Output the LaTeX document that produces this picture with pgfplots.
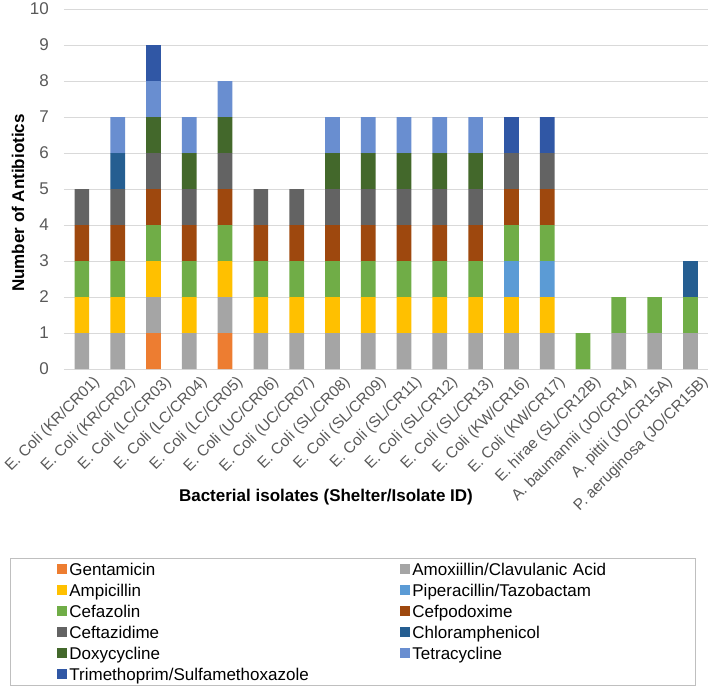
\documentclass[border=0pt]{standalone}
\usepackage{pgfplots}
\pgfplotsset{compat=1.18}
\usepackage{pgfplotstable}
\usepackage{fontspec}
\setmainfont{Liberation Sans}
\definecolor{cGent}{HTML}{ED7D31}
\definecolor{cAmox}{HTML}{A5A5A5}
\definecolor{cAmp}{HTML}{FFC000}
\definecolor{cPip}{HTML}{5B9BD5}
\definecolor{cCefaz}{HTML}{70AD47}
\definecolor{cCefpod}{HTML}{9E480E}
\definecolor{cCeftaz}{HTML}{636363}
\definecolor{cChlor}{HTML}{255E91}
\definecolor{cDoxy}{HTML}{43682B}
\definecolor{cTetra}{HTML}{698ED0}
\definecolor{cTmp}{HTML}{3057A5}
\definecolor{tickgray}{HTML}{595959}
\definecolor{gridgray}{HTML}{D9D9D9}
\pgfplotstableread{
x gent amox amp pip cefaz cefpod ceftaz chlor doxy tetra tmp
0  0 1 1 0 1 1 1 0 0 0 0
1  0 1 1 0 1 1 1 1 0 1 0
2  1 1 1 0 1 1 1 0 1 1 1
3  0 1 1 0 1 1 1 0 1 1 0
4  1 1 1 0 1 1 1 0 1 1 0
5  0 1 1 0 1 1 1 0 0 0 0
6  0 1 1 0 1 1 1 0 0 0 0
7  0 1 1 0 1 1 1 0 1 1 0
8  0 1 1 0 1 1 1 0 1 1 0
9  0 1 1 0 1 1 1 0 1 1 0
10 0 1 1 0 1 1 1 0 1 1 0
11 0 1 1 0 1 1 1 0 1 1 0
12 0 1 1 1 1 1 1 0 0 0 1
13 0 1 1 1 1 1 1 0 0 0 1
14 0 0 0 0 1 0 0 0 0 0 0
15 0 1 0 0 1 0 0 0 0 0 0
16 0 1 0 0 1 0 0 0 0 0 0
17 0 1 0 0 1 0 0 1 0 0 0
}\data
\begin{document}
\begin{tikzpicture}
\path[use as bounding box] (-64pt,-317pt) rectangle (648pt,369pt);
\begin{axis}[
  at={(0,0)}, anchor=south west,
  scale only axis, width=644.3pt, height=360pt,
  ybar stacked, bar width=14.7pt,
  xmin=-0.5, xmax=17.5, ymin=0, ymax=10,
  xtick={0,...,17}, ytick={0,...,10},
  xticklabels={E. Coli (KR/CR01),E. Coli (KR/CR02),E. Coli (LC/CR03),E. Coli (LC/CR04),E. Coli (LC/CR05),E. Coli (UC/CR06),E. Coli (UC/CR07),E. Coli (SL/CR08),E. Coli (SL/CR09),E. Coli (SL/CR11),E. Coli (SL/CR12),E. Coli (SL/CR13),E. Coli (KW/CR16),E. Coli (KW/CR17),E. hirae (SL/CR12B),A. baumannii (JO/CR14),A. pittii (JO/CR15A),P. aeruginosa (JO/CR15B)},
  ymajorgrids, major grid style={draw=gridgray, line width=1pt},
  axis line style={draw=none},
  major tick length=0pt,
  /pgf/number format/assume math mode=true,
  xticklabel style={rotate=45, anchor=north east, inner sep=0pt, xshift=3.5pt, yshift=-11pt, font=\fontsize{15.5}{18}\selectfont, text=tickgray},
  yticklabel style={anchor=east, inner sep=0pt, xshift=-15pt, font=\fontsize{17}{20}\selectfont, text=tickgray},
  xlabel={Bacterial isolates (Shelter/Isolate ID)},
  ylabel={Number of Antibiotics},
  xlabel style={at={(axis description cs:0.4066,-0.3556)}, anchor=center, font=\fontsize{17}{20}\selectfont\bfseries},
  ylabel style={at={(axis description cs:-0.0714,0.461)}, anchor=center, font=\fontsize{17}{20}\selectfont\bfseries},
  legend columns=2,
  legend cell align=left,
  legend image code/.code={\path[draw=none,fill=none] (-47pt,-5pt) rectangle (0pt,5pt); \fill[#1,draw=none] (0pt,-5pt) rectangle (10pt,5pt);},
  legend style={at={(axis description cs:-0.0838,-0.525)}, anchor=north west,
    draw=black!25, line width=0.8pt, inner xsep=0pt, inner ysep=0.5pt,
    font=\fontsize{17}{20}\selectfont,
    /tikz/column sep=0pt, /tikz/row sep=0pt,
    /tikz/every even column/.append style={column sep=1pt},
    nodes={text width=281pt, align=left, inner xsep=2pt, inner ysep=0pt, text height=16.5pt, text depth=4.5pt}},
]
\addplot[fill=cGent, draw=none] table[x=x,y=gent]{\data};
\addlegendentry{Gentamicin}
\addplot[fill=cAmox, draw=none] table[x=x,y=amox]{\data};
\addlegendentry{Amoxiillin/Clavulanic Acid}
\addplot[fill=cAmp, draw=none] table[x=x,y=amp]{\data};
\addlegendentry{Ampicillin}
\addplot[fill=cPip, draw=none] table[x=x,y=pip]{\data};
\addlegendentry{Piperacillin/Tazobactam}
\addplot[fill=cCefaz, draw=none] table[x=x,y=cefaz]{\data};
\addlegendentry{Cefazolin}
\addplot[fill=cCefpod, draw=none] table[x=x,y=cefpod]{\data};
\addlegendentry{Cefpodoxime}
\addplot[fill=cCeftaz, draw=none] table[x=x,y=ceftaz]{\data};
\addlegendentry{Ceftazidime}
\addplot[fill=cChlor, draw=none] table[x=x,y=chlor]{\data};
\addlegendentry{Chloramphenicol}
\addplot[fill=cDoxy, draw=none] table[x=x,y=doxy]{\data};
\addlegendentry{Doxycycline}
\addplot[fill=cTetra, draw=none] table[x=x,y=tetra]{\data};
\addlegendentry{Tetracycline}
\addplot[fill=cTmp, draw=none] table[x=x,y=tmp]{\data};
\addlegendentry{Trimethoprim/Sulfamethoxazole}
\end{axis}
\end{tikzpicture}
\end{document}
